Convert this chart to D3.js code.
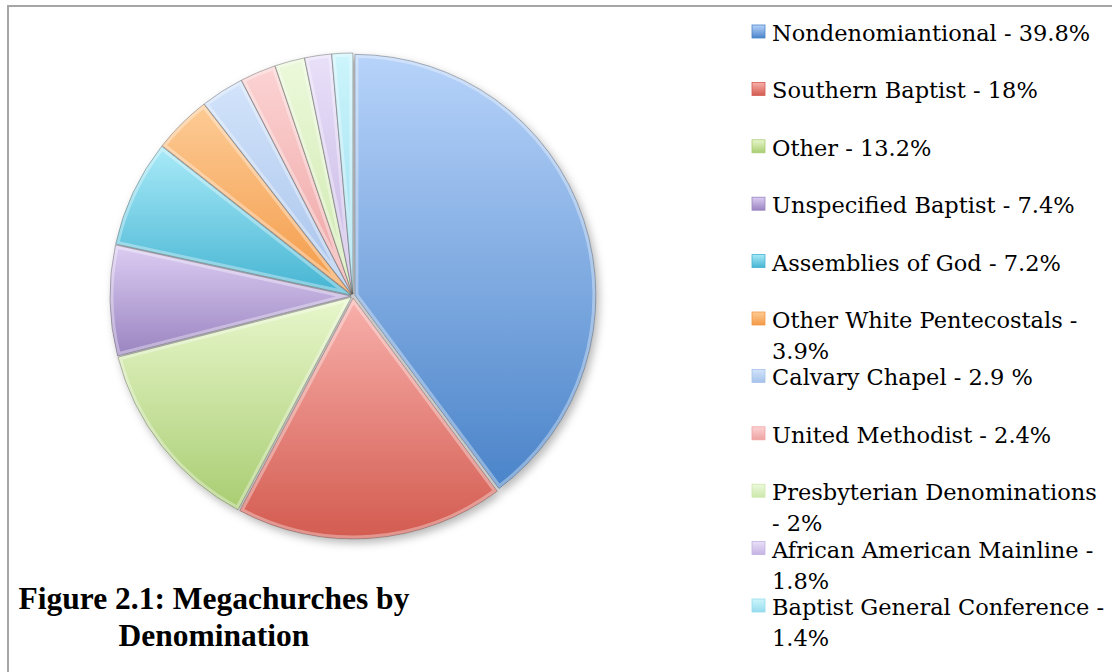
<!DOCTYPE html>
<html>
<head>
<meta charset="utf-8">
<script src="https://cdn.jsdelivr.net/npm/d3@7"></script>
<style>
  body { margin: 0; background: #ffffff; }
</style>
</head>
<body>
<div id="chart"></div>
<script>
// denominations of megachurches and their share (percent)
var denominations = [
  "Nondenomiantional", "Southern Baptist", "Other", "Unspecified Baptist",
  "Assemblies of God", "Other White Pentecostals", "Calvary Chapel",
  "United Methodist", "Presbyterian Denominations", "African American Mainline",
  "Baptist General Conference"
];
var shares = [39.8, 18, 13.2, 7.4, 7.2, 3.9, 2.9, 2.4, 2, 1.8, 1.4];
// percent labels as printed in the legend
var shareLabels = ["39.8%", "18%", "13.2%", "7.4%", "7.2%", "3.9%", "2.9 %", "2.4%", "2%", "1.8%", "1.4%"];
var titleLines = ["Figure 2.1: Megachurches by", "Denomination"];

// slice colours (dark end of each gradient, light end)
var darkColors = ["#4a84c9", "#d35b50", "#a9cd72", "#9a84c0", "#45b4d2", "#f39a47",
                  "#a6c2ea", "#eea2a2", "#cde8ab", "#c4b3e2", "#96dcee"];
var lightColors = ["#b7d3fa", "#f8b0ab", "#e8f7cc", "#dccdf3", "#a9eaf8", "#fdcb95",
                   "#d3e4fb", "#fcd3d3", "#ecf9db", "#e9e0f9", "#cdf5fc"];

var width = 1112, height = 672;
var cx = 353, cy = 296, radius = 241;

var svg = d3.select("#chart").append("svg")
  .attr("width", width)
  .attr("height", height);

var defs = svg.append("defs");

// soft shadow under the pie
var shadow = defs.append("filter")
  .attr("id", "shadow")
  .attr("x", "-20%").attr("y", "-20%")
  .attr("width", "140%").attr("height", "140%");
shadow.append("feDropShadow")
  .attr("dx", 3).attr("dy", 4)
  .attr("stdDeviation", 4)
  .attr("flood-color", "#000")
  .attr("flood-opacity", 0.28);

// one vertical gradient per slice (also used by legend keys)
denominations.forEach(function(d, i) {
  var g = defs.append("linearGradient")
    .attr("id", "grad" + i)
    .attr("x1", 0).attr("y1", 0)
    .attr("x2", 0).attr("y2", 1);
  g.append("stop").attr("offset", "0%").attr("stop-color", lightColors[i]);
  g.append("stop").attr("offset", "100%").attr("stop-color", darkColors[i]);
});

// chart frame
svg.append("rect")
  .attr("x", 8).attr("y", 6)
  .attr("width", width + 20).attr("height", height + 20)
  .attr("fill", "none")
  .attr("stroke", "#a6a6a6")
  .attr("stroke-width", 2);

// the pie
var pie = d3.pie().sort(null).value(function(d) { return d; });
var arc = d3.arc().innerRadius(0).outerRadius(radius);
var arcs = pie(shares);

var pieG = svg.append("g")
  .attr("transform", "translate(" + cx + "," + cy + ")")
  .attr("filter", "url(#shadow)");

var slice = pieG.selectAll(".slice")
  .data(arcs)
  .enter().append("g")
  .attr("class", "slice")
  .attr("transform", function(d) {
    // tiny explosion so the slices separate a little
    var a = (d.startAngle + d.endAngle) / 2;
    return "translate(" + (Math.sin(a) * 2) + "," + (-Math.cos(a) * 2) + ")";
  });

slice.each(function(d, i) {
  defs.append("clipPath")
    .attr("id", "clip" + i)
    .append("path")
    .attr("d", arc(d));
});

slice.append("path")
  .attr("d", arc)
  .attr("fill", function(d, i) { return "url(#grad" + i + ")"; });

// bevel highlight inside each slice
slice.append("path")
  .attr("d", arc)
  .attr("fill", "none")
  .attr("stroke", "#ffffff")
  .attr("stroke-opacity", 0.35)
  .attr("stroke-width", 7)
  .attr("clip-path", function(d, i) { return "url(#clip" + i + ")"; });

slice.append("path")
  .attr("d", arc)
  .attr("fill", "none")
  .attr("stroke", "#3c3c3c")
  .attr("stroke-opacity", 0.45)
  .attr("stroke-width", 0.8);

// legend
var legendX = 752, legendTop = 41, legendStep = 57.4, lineHeight = 31;

var legend = svg.selectAll(".legend")
  .data(denominations)
  .enter().append("g")
  .attr("class", "legend")
  .attr("transform", function(d, i) {
    return "translate(" + legendX + "," + (legendTop + i * legendStep) + ")";
  });

legend.append("rect")
  .attr("x", 0).attr("y", -16)
  .attr("width", 13).attr("height", 13)
  .attr("fill", function(d, i) { return "url(#grad" + i + ")"; })
  .attr("stroke", function(d, i) { return darkColors[i]; })
  .attr("stroke-width", 0.8);

legend.append("text")
  .attr("x", 20)
  .attr("y", 0)
  .attr("font-family", "DejaVu Serif")
  .attr("font-size", "22.5px")
  .attr("fill", "#000")
  .text(function(d, i) { return d + " - " + shareLabels[i]; })
  .call(wrap, 334);

// figure caption, centred under the pie
svg.selectAll(".title")
  .data(titleLines)
  .enter().append("text")
  .attr("class", "title")
  .attr("x", 214)
  .attr("y", function(d, i) { return 609 + i * 37; })
  .attr("text-anchor", "middle")
  .attr("font-family", "Liberation Serif")
  .attr("font-weight", "bold")
  .attr("font-size", "31.5px")
  .attr("fill", "#000")
  .text(function(d) { return d; });

// wrap long legend labels onto a second line
function wrap(text, maxWidth) {
  text.each(function() {
    var text = d3.select(this),
      words = text.text().split(/\s+/).reverse(),
      word,
      line = [],
      lineNumber = 0,
      x = text.attr("x"),
      tspan = text.text(null).append("tspan").attr("x", x).attr("y", 0);
    while (word = words.pop()) {
      line.push(word);
      tspan.text(line.join(" "));
      if (tspan.node().getComputedTextLength() > maxWidth && line.length > 1) {
        line.pop();
        tspan.text(line.join(" "));
        line = [word];
        tspan = text.append("tspan").attr("x", x)
          .attr("y", ++lineNumber * lineHeight).text(word);
      }
    }
  });
}
</script>
</body>
</html>
